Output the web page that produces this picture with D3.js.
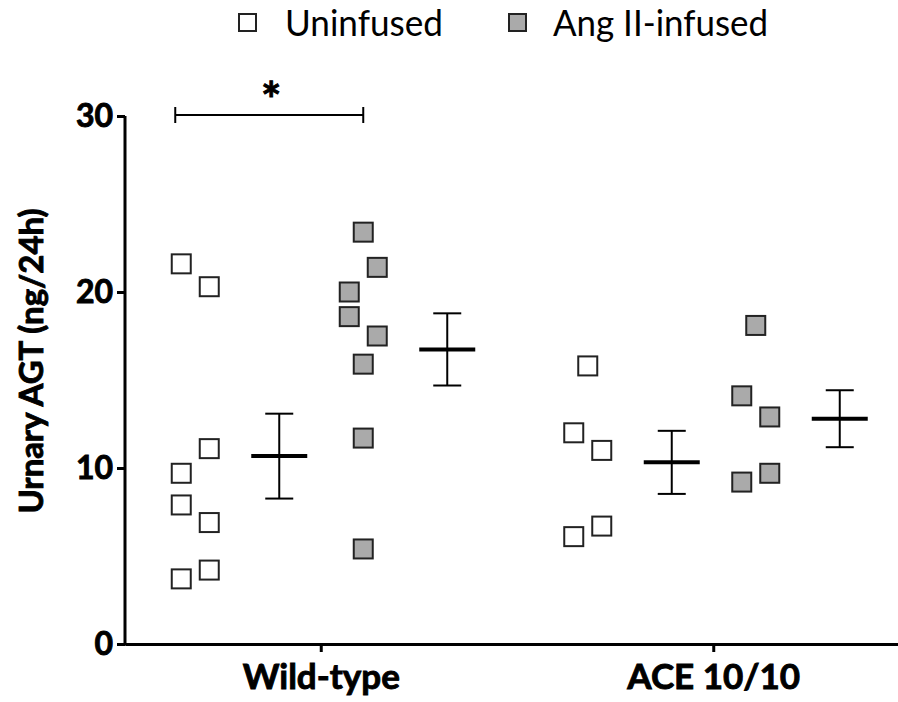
<!DOCTYPE html>
<html lang="en">
<head>
    <meta charset="UTF-8">
    <title>Urinary AGT scatter</title>
    <script src="https://d3js.org/d3.v7.min.js"></script>
    <style>
        body { margin: 0; background: #fff; }
        text { font-family: Lato, "Open Sans", sans-serif; fill: #000; }
        .axis text, .heavy { font-weight: bold; stroke: #000; stroke-width: 0.9px; }
        .axis path, .axis line { stroke: #000; stroke-width: 3px; }
        .pt { stroke: #222; stroke-width: 2px; }
        .err { stroke: #000; stroke-width: 2px; fill: none; }
        .meanline { stroke: #000; stroke-width: 4px; }
    </style>
</head>
<body>
    <svg width="898" height="702"></svg>

    <script>
        // genotypes on the x axis
        const genotypes = ['Wild-type', 'ACE 10/10'];
        const groups = ['Uninfused', 'Ang II-infused'];
        const yTicks = [0, 10, 20, 30];

        // urinary AGT (ng/24h)
        const wtUninfused = [21.6, 20.3, 11.1, 9.7, 7.9, 6.9, 4.2, 3.7];
        const wtAngII = [23.4, 21.4, 20.0, 18.6, 17.5, 15.9, 11.7, 5.4];
        const aceUninfused = [15.8, 12.0, 11.0, 6.7, 6.1];
        const aceAngII = [18.1, 14.1, 12.9, 9.7, 9.2];

        // column each point sits in (scatter spread, -1 left / 0 mid / 1 right)
        const wtUninfusedCol = [-1, 1, 1, -1, -1, 1, 1, -1];
        const wtAngIICol = [0, 1, -1, -1, 1, 0, 0, 0];
        const aceUninfusedCol = [0, -1, 1, 1, -1];
        const aceAngIICol = [0, -1, 1, 1, -1];

        const sets = [
            { geno: 'Wild-type', group: 'Uninfused', vals: wtUninfused, cols: wtUninfusedCol },
            { geno: 'Wild-type', group: 'Ang II-infused', vals: wtAngII, cols: wtAngIICol },
            { geno: 'ACE 10/10', group: 'Uninfused', vals: aceUninfused, cols: aceUninfusedCol },
            { geno: 'ACE 10/10', group: 'Ang II-infused', vals: aceAngII, cols: aceAngIICol }
        ];

        const svg = d3.select('svg');
        const fill = d3.scaleOrdinal().domain(groups).range(['#ffffff', '#aaaaaa']);

        const x = d3.scaleBand().domain(genotypes).range([125, 910]);
        // four slots in each genotype: points / mean for each group
        const slot = d3.scalePoint()
            .domain(['Uninfused-pts', 'Uninfused-mean', 'Ang II-infused-pts', 'Ang II-infused-mean'])
            .range([-126, 126]);
        const y = d3.scaleLinear().domain([0, 30]).range([644, 116]);
        const colStep = 14, sq = 19;

        // axes
        svg.append('g')
            .attr('class', 'axis')
            .attr('transform', 'translate(0,644)')
            .call(d3.axisBottom(x).tickSize(8).tickSizeOuter(0).tickPadding(12))
            .call(g => g.selectAll('text').style('font-size', '35px').attr('dy', '0.71em'));

        svg.append('g')
            .attr('class', 'axis')
            .attr('transform', 'translate(125,0)')
            .call(d3.axisLeft(y).tickValues(yTicks).tickSize(8).tickSizeOuter(0).tickPadding(4))
            .call(g => g.selectAll('text').style('font-size', '32px'))
            .call(g => g.select('.domain').attr('d', 'M0,' + y(30) + 'V' + (y(0) + 1.5)));

        svg.append('text')
            .attr('class', 'heavy')
            .attr('transform', 'translate(43,' + 361 + ') rotate(-90)')
            .attr('text-anchor', 'middle')
            .style('font-size', '33px')
            .attr('textLength', 305)
            .attr('lengthAdjust', 'spacingAndGlyphs')
            .text('Urnary AGT (ng/24h)');

        // points
        sets.forEach(s => {
            const cx = x(s.geno) + x.bandwidth() / 2 + slot(s.group + '-pts');
            svg.append('g').selectAll('rect')
                .data(s.vals)
                .enter().append('rect')
                .attr('class', 'pt')
                .attr('x', (d, i) => cx + s.cols[i] * colStep - sq / 2)
                .attr('y', d => y(d) - sq / 2)
                .attr('width', sq)
                .attr('height', sq)
                .attr('fill', fill(s.group));

            // mean +/- SEM
            const m = d3.mean(s.vals);
            const sem = d3.deviation(s.vals) / Math.sqrt(s.vals.length);
            const mx = x(s.geno) + x.bandwidth() / 2 + slot(s.group + '-mean');
            const g = svg.append('g');
            g.append('line').attr('class', 'err')
                .attr('x1', mx).attr('x2', mx).attr('y1', y(m + sem)).attr('y2', y(m - sem));
            [m + sem, m - sem].forEach(v => {
                g.append('line').attr('class', 'err')
                    .attr('x1', mx - 14).attr('x2', mx + 14).attr('y1', y(v)).attr('y2', y(v));
            });
            g.append('line').attr('class', 'meanline')
                .attr('x1', mx - 28).attr('x2', mx + 28).attr('y1', y(m)).attr('y2', y(m));
        });

        // significance bracket between the two wild-type groups
        const wtC = x('Wild-type') + x.bandwidth() / 2;
        const bx1 = wtC + slot('Uninfused-pts') - 20;
        const bx2 = wtC + slot('Ang II-infused-pts');
        const by = y(30) - 1;
        const br = svg.append('g');
        br.append('line').attr('class', 'err').attr('x1', bx1).attr('x2', bx2).attr('y1', by).attr('y2', by);
        [bx1, bx2].forEach(bx => {
            br.append('line').attr('class', 'err').attr('x1', bx).attr('x2', bx).attr('y1', by - 8).attr('y2', by + 8);
        });
        br.append('text')
            .attr('class', 'heavy')
            .attr('x', (bx1 + bx2) / 2 + 2)
            .attr('y', by + 2)
            .attr('text-anchor', 'middle')
            .style('font-size', '48px')
            .text('*');

        // legend
        const legX = [237, 507];
        const leg = svg.append('g').selectAll('g')
            .data(groups)
            .enter().append('g')
            .attr('transform', (d, i) => 'translate(' + legX[i] + ',0)');
        leg.append('rect')
            .attr('class', 'pt')
            .attr('x', 2).attr('y', 14)
            .attr('width', 17).attr('height', 17)
            .attr('fill', d => fill(d));
        leg.append('text')
            .attr('x', (d, i) => i === 0 ? 48 : 46)
            .attr('y', 36)
            .style('font-size', '36px')
            .attr('textLength', (d, i) => i === 0 ? 158 : 215)
            .attr('lengthAdjust', 'spacingAndGlyphs')
            .text(d => d);
    </script>
</body>
</html>
